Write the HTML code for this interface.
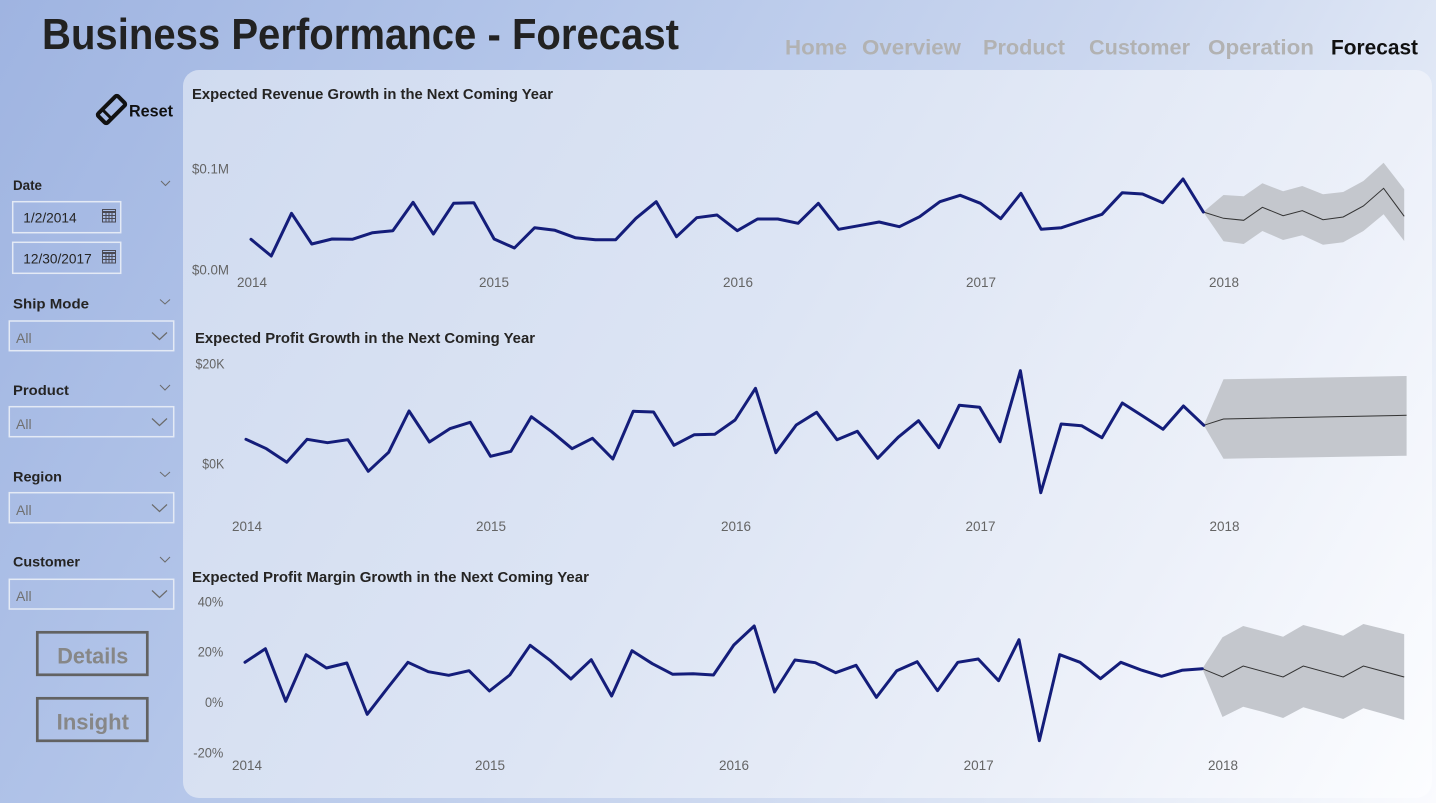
<!DOCTYPE html>
<html><head><meta charset="utf-8"><style>
html,body{margin:0;padding:0;background:#fff;}
svg{display:block;}
text{font-family:"Liberation Sans",Arial,sans-serif;}
</style></head><body>
<svg width="1436" height="803" viewBox="0 0 1436 803" xmlns="http://www.w3.org/2000/svg">
<defs>
<linearGradient id="bg" gradientUnits="userSpaceOnUse" x1="0" y1="0" x2="1436" y2="803">
<stop offset="0" stop-color="#9fb4e1"/><stop offset="0.3" stop-color="#b3c5e9"/><stop offset="0.6" stop-color="#cbd7ef"/><stop offset="0.8" stop-color="#e2e9f6"/><stop offset="1" stop-color="#fafbfe"/>
</linearGradient>
<linearGradient id="pn" gradientUnits="userSpaceOnUse" x1="183" y1="70" x2="1432" y2="798">
<stop offset="0" stop-color="#d0dbf0"/><stop offset="0.45" stop-color="#dde5f4"/><stop offset="0.75" stop-color="#ecf0f9"/><stop offset="1" stop-color="#fcfdff"/>
</linearGradient>
</defs>
<rect x="0" y="0" width="1436" height="803" fill="url(#bg)"/>
<rect x="183" y="70" width="1249" height="728" rx="16" fill="url(#pn)"/>

<!-- Title -->
<text x="42" y="49" font-size="44" font-weight="bold" fill="#222" textLength="637" lengthAdjust="spacingAndGlyphs">Business Performance - Forecast</text>

<!-- Nav -->
<g font-size="21.5" font-weight="bold" fill="#b2b2b2">
<text x="785" y="54.5" textLength="62" lengthAdjust="spacingAndGlyphs">Home</text>
<text x="862" y="54.5" textLength="99" lengthAdjust="spacingAndGlyphs">Overview</text>
<text x="983" y="54.5" textLength="82" lengthAdjust="spacingAndGlyphs">Product</text>
<text x="1089" y="54.5" textLength="101" lengthAdjust="spacingAndGlyphs">Customer</text>
<text x="1208" y="54.5" textLength="106" lengthAdjust="spacingAndGlyphs">Operation</text>
<text x="1331" y="54.5" textLength="87" lengthAdjust="spacingAndGlyphs" fill="#111">Forecast</text>
</g>

<!-- Reset -->
<g transform="rotate(-45 111.5 109.5)">
<rect x="97.5" y="103" width="28" height="13" rx="2" fill="none" stroke="#111" stroke-width="4"/>
<line x1="105" y1="104" x2="105" y2="115" stroke="#111" stroke-width="3"/>
</g>
<text x="129" y="116.7" font-size="17" font-weight="bold" fill="#111" textLength="44" lengthAdjust="spacingAndGlyphs">Reset</text>

<!-- Slicers -->
<g font-size="13.8" font-weight="bold" fill="#252423">
<text x="13" y="190" textLength="29" lengthAdjust="spacingAndGlyphs">Date</text>
<text x="13" y="308.3" textLength="76" lengthAdjust="spacingAndGlyphs">Ship Mode</text>
<text x="13" y="395" textLength="56" lengthAdjust="spacingAndGlyphs">Product</text>
<text x="13" y="481.7" textLength="49" lengthAdjust="spacingAndGlyphs">Region</text>
<text x="13" y="566.7" textLength="67" lengthAdjust="spacingAndGlyphs">Customer</text>
</g>
<g fill="none" stroke="#6b6b6b" stroke-width="1">
<polyline points="161,181 165.5,185.5 170,181"/>
<polyline points="160,299.5 165,304 170,299.5"/>
<polyline points="160,385 165,390 170,385"/>
<polyline points="160,472 165,476.5 170,472"/>
<polyline points="160,557 165,562 170,557"/>
</g>
<g fill="none" stroke="#e4eaf5" stroke-width="1.5">
<rect x="12.7" y="201.7" width="108" height="31"/>
<rect x="12.7" y="242.3" width="108" height="31"/>
<rect x="9.3" y="321" width="164.4" height="29.7"/>
<rect x="9.3" y="406.7" width="164.4" height="30"/>
<rect x="9.3" y="492.7" width="164.4" height="30"/>
<rect x="9.3" y="579.3" width="164.4" height="29.7"/>
</g>
<g font-size="13.5" fill="#252423">
<text x="23.3" y="222.5" textLength="53.4" lengthAdjust="spacingAndGlyphs">1/2/2014</text>
<text x="23.3" y="263.5" textLength="68.4" lengthAdjust="spacingAndGlyphs">12/30/2017</text>
</g>
<g fill="none" stroke="#4a4a55" stroke-width="1">
<rect x="102.5" y="209.5" width="13" height="12.5"/>
<line x1="102.5" y1="212" x2="115.5" y2="212" stroke-width="2"/>
<line x1="102.5" y1="215.5" x2="115.5" y2="215.5"/><line x1="102.5" y1="218.5" x2="115.5" y2="218.5"/>
<line x1="106" y1="212" x2="106" y2="222"/><line x1="109" y1="212" x2="109" y2="222"/><line x1="112" y1="212" x2="112" y2="222"/>
<rect x="102.5" y="250.5" width="13" height="12.5"/>
<line x1="102.5" y1="253" x2="115.5" y2="253" stroke-width="2"/>
<line x1="102.5" y1="256.5" x2="115.5" y2="256.5"/><line x1="102.5" y1="259.5" x2="115.5" y2="259.5"/>
<line x1="106" y1="253" x2="106" y2="263"/><line x1="109" y1="253" x2="109" y2="263"/><line x1="112" y1="253" x2="112" y2="263"/>
</g>
<g font-size="14" fill="#707070">
<text x="16" y="343">All</text>
<text x="16" y="429">All</text>
<text x="16" y="515">All</text>
<text x="16" y="601">All</text>
</g>
<g fill="none" stroke="#6b6b6b" stroke-width="1.2">
<polyline points="152,332.5 159.5,339.5 167,332.5"/>
<polyline points="152,418.5 159.5,425.5 167,418.5"/>
<polyline points="152,504.5 159.5,511.5 167,504.5"/>
<polyline points="152,590.5 159.5,597.5 167,590.5"/>
</g>

<!-- Buttons -->
<rect x="37.3" y="632.3" width="110" height="42.5" fill="none" stroke="#626262" stroke-width="2.7"/>
<rect x="37.3" y="698.3" width="110" height="42.5" fill="none" stroke="#626262" stroke-width="2.7"/>
<text x="57.3" y="663.3" font-size="22" font-weight="bold" fill="#878787" textLength="71" lengthAdjust="spacingAndGlyphs">Details</text>
<text x="56.7" y="729.3" font-size="22" font-weight="bold" fill="#878787" textLength="72.3" lengthAdjust="spacingAndGlyphs">Insight</text>

<!-- Chart titles -->
<g font-size="14.5" font-weight="bold" fill="#252423">
<text x="192" y="99" textLength="361" lengthAdjust="spacingAndGlyphs">Expected Revenue Growth in the Next Coming Year</text>
<text x="195" y="343" textLength="340" lengthAdjust="spacingAndGlyphs">Expected Profit Growth in the Next Coming Year</text>
<text x="192" y="582" textLength="397" lengthAdjust="spacingAndGlyphs">Expected Profit Margin Growth in the Next Coming Year</text>
</g>

<!-- Axis labels -->
<g font-size="13.5" fill="#646464">
<text x="192" y="173.3" textLength="37" lengthAdjust="spacingAndGlyphs">$0.1M</text>
<text x="192" y="274.3" textLength="37" lengthAdjust="spacingAndGlyphs">$0.0M</text>
<text x="195.5" y="368.3" textLength="29" lengthAdjust="spacingAndGlyphs">$20K</text>
<text x="202.3" y="468.3" textLength="22" lengthAdjust="spacingAndGlyphs">$0K</text>
<text x="197.7" y="606.5" textLength="25.6" lengthAdjust="spacingAndGlyphs">40%</text>
<text x="197.7" y="656.5" textLength="25.6" lengthAdjust="spacingAndGlyphs">20%</text>
<text x="205" y="707" textLength="18.3" lengthAdjust="spacingAndGlyphs">0%</text>
<text x="193.3" y="757.5" textLength="30" lengthAdjust="spacingAndGlyphs">-20%</text>
</g>
<g font-size="13.5" fill="#646464" text-anchor="middle">
<text x="252" y="287">2014</text><text x="494" y="287">2015</text><text x="738" y="287">2016</text><text x="981" y="287">2017</text><text x="1224" y="287">2018</text>
<text x="247" y="531">2014</text><text x="491" y="531">2015</text><text x="736" y="531">2016</text><text x="980.5" y="531">2017</text><text x="1224.5" y="531">2018</text>
<text x="247" y="770">2014</text><text x="490" y="770">2015</text><text x="734" y="770">2016</text><text x="978.6" y="770">2017</text><text x="1223" y="770">2018</text>
</g>

<!-- Forecast bands -->
<g fill="#c4c7cd">
<polygon points="1203.3,212 1223.5,195 1243.7,196.3 1262.4,183.3 1283.1,191.3 1302.3,186 1323,194.3 1343.2,192 1363.4,181 1383.6,162.7 1404.2,189.3 1404.2,241 1383.6,214.3 1363.4,231 1343.2,242.3 1323,244.7 1302.3,235.3 1283.1,240 1262.4,231 1243.7,244 1223.5,241.3"/>
<polygon points="1203.8,425.3 1223.5,379.3 1406.6,376 1406.6,455.7 1223.5,458.7"/>
<polygon points="1202.3,668.7 1222.5,637.3 1243.2,626 1263.2,631.3 1283.1,636.7 1303.3,625 1323.3,630.3 1343.2,635.7 1363.4,624 1383.8,629 1404.2,634.3 1404.2,720 1383.8,714 1363.4,708.3 1343.2,719 1323.3,713 1303.3,707.3 1283.1,718 1263.2,712 1243.2,706.7 1222.5,717"/>
</g>
<g fill="none" stroke="#333" stroke-width="1">
<polyline points="1203.3,212 1223.5,218.3 1243.7,220.3 1262.4,207.3 1283.1,215.7 1302.3,210.7 1323,219.7 1343.2,217 1363.4,206 1383.6,188.3 1404.2,216.3"/>
<polyline points="1203.8,425.3 1223.5,419 1406.6,415.3"/>
<polyline points="1202.3,668.7 1222.5,677 1243.2,666 1283.1,677 1303.3,666 1343.2,677 1363.4,666 1404.2,677"/>
</g>

<!-- Main series -->
<g fill="none" stroke="#141d7a" stroke-width="3" stroke-linejoin="round" stroke-linecap="round">
<polyline vector-effect="non-scaling-stroke" transform="matrix(20.262,0,0,1,251,0)" points="0,239.3 1,256 2,213.3 3,244 4,239 5,239.3 6,232.7 7,230.7 8,202.3 9,234 10,203.3 11,202.7 12,239 13,248 14,227.7 15,230.3 16,237.7 17,239.7 18,239.7 19,218.3 20,201.7 21,236.7 22,217.7 23,215 24,230.7 25,219 26,219 27,223.3 28,203.3 29,229.3 30,225.7 31,222 32,226.7 33,216.7 34,201.7 35,195.3 36,203.3 37,218.7 38,193.3 39,229.3 40,227.7 41,221 42,214.3 43,192.7 44,194 45,202.7 46,179 47,212"/>
<polyline vector-effect="non-scaling-stroke" transform="matrix(20.379,0,0,1,246,0)" points="0,439.3 1,448.7 2,462.3 3,439.3 4,442.7 5,439.7 6,471.3 7,452.3 8,411 9,442 10,428.7 11,422.3 12,456.3 13,451.3 14,416.7 15,431.7 16,448.7 17,438.3 18,459 19,411.3 20,412 21,445.3 22,434.7 23,434.3 24,420 25,388.3 26,452.7 27,425 28,412.3 29,439.7 30,431.3 31,458.3 32,437.3 33,420.7 34,447.7 35,405.3 36,407.3 37,441.7 38,370.7 39,492.7 40,424 41,425.7 42,437.7 43,403 44,416 45,429.3 46,406 47,425.3"/>
<polyline vector-effect="non-scaling-stroke" transform="matrix(20.368,0,0,1,245,0)" points="0,662.3 1,648.7 2,701.3 3,654.7 4,668 5,663 6,714.3 7,688 8,662.3 9,671.7 10,675.3 11,670.7 12,691 13,675 14,645.3 15,660.7 16,679 17,659.7 18,696 19,650.7 20,663.7 21,674.3 22,673.7 23,675 24,645 25,626 26,692 27,660 28,662.7 29,672.7 30,665.3 31,697.3 32,670.7 33,661.7 34,690.7 35,662.3 36,659 37,680.7 38,639.7 39,740.7 40,654.7 41,662.3 42,678.7 43,662.3 44,670 45,676.3 46,670.3 47,668.7"/>
</g>
</svg>
</body></html>
